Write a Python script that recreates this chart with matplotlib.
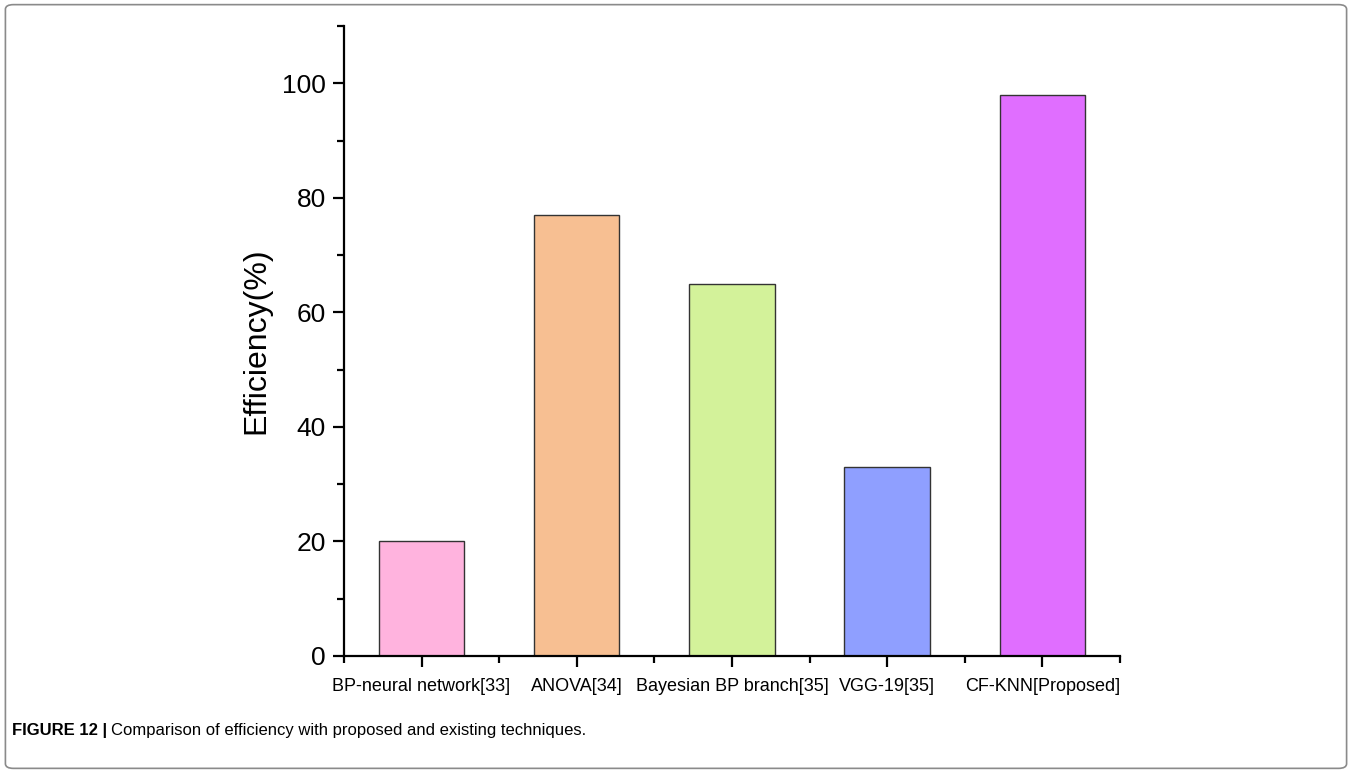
import matplotlib
matplotlib.use("Agg")
import matplotlib.pyplot as plt
from matplotlib.patches import FancyBboxPatch
from matplotlib.ticker import MultipleLocator, FixedLocator

plt.rcParams['font.family'] = ['Liberation Sans', 'DejaVu Sans']

methods = ["BP-neural network[33]", "ANOVA[34]", "Bayesian BP branch[35]",
           "VGG-19[35]", "CF-KNN[Proposed]"]
efficiency = [20, 77, 65, 33, 98]
bar_colors = ["#FFB3DE", "#F7BF92", "#D3F29A", "#8F9FFF", "#E06EFF"]

fig = plt.figure(figsize=(13.52, 7.73), dpi=100)

# rounded frame around the whole figure
frame = FancyBboxPatch((0.004, 0.006), 0.992, 0.988, boxstyle="round,pad=0,rounding_size=0.006",
                       transform=fig.transFigure, fill=False, edgecolor="#8a8a8a", linewidth=1.2)
fig.patches.append(frame)

ax = fig.add_axes([0.2544, 0.1514, 0.574, 0.815])
pos = list(range(1, len(methods) + 1))
ax.bar(pos, efficiency, width=0.55, color=bar_colors, edgecolor="#333333", linewidth=1.0, zorder=2)

ax.set_xlim(0.5, 5.5)
ax.set_ylim(0, 110)
ax.spines['top'].set_visible(False)
ax.spines['right'].set_visible(False)
for s in ['left', 'bottom']:
    ax.spines[s].set_linewidth(1.6)

ax.set_xticks(pos)
ax.set_xticklabels(methods, fontsize=13)
ax.xaxis.set_minor_locator(FixedLocator([0.5, 1.5, 2.5, 3.5, 4.5, 5.5]))
ax.yaxis.set_major_locator(MultipleLocator(20))
ax.yaxis.set_minor_locator(MultipleLocator(10))
ax.tick_params(axis='both', which='major', direction='out', length=8, width=1.6)
ax.tick_params(axis='both', which='minor', direction='out', length=5, width=1.6)
ax.tick_params(axis='y', labelsize=19, pad=5)
ax.tick_params(axis='x', pad=8)

ax.set_ylabel("Efficiency(%)", fontsize=23, labelpad=8)

# caption: bold label followed by normal text
lab = fig.text(0.009, 0.055, "FIGURE 12 |", fontsize=12, fontweight='bold', ha='left', va='center')
r = fig.canvas.get_renderer()
bb = lab.get_window_extent(renderer=r).transformed(fig.transFigure.inverted())
fig.text(bb.x1 + 0.003, 0.055, "Comparison of efficiency with proposed and existing techniques.",
         fontsize=12, ha='left', va='center')

fig.savefig("out.png", dpi=100)
